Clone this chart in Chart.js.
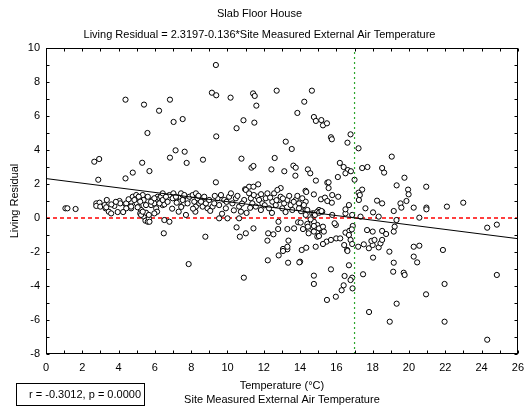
<!DOCTYPE html>
<html lang="en">
<head>
  <meta charset="UTF-8">
  <title>Slab Floor House</title>
  <script src="https://cdn.jsdelivr.net/npm/chart.js"></script>
  <style>
    body {
      margin: 0;
      background: #fff;
    }
  </style>
</head>
<body>
  <canvas id="residualChart" width="531" height="411"></canvas>

  <script>
    // Regression of living residual on site air temperature
    const intercept = 2.3197;
    const slope = -0.136;
    const statsText = 'r = -0.3012, p = 0.0000';
    const setPoint = 17; // vertical marker (°C)

    // [temperature, residual] pairs
    const upperPoints = [
      [2.66,3.31],[2.93,3.47],[2.88,2.25],[4.38,6.96],[4.38,2.33],[4.78,2.67],[5.30,3.25],[5.40,6.67],
      [5.59,5.00],[5.70,2.76],[6.23,6.31],[6.83,6.96],[6.83,3.55],[7.03,5.65],[7.14,3.98],[7.53,5.82],
      [7.64,3.90],[7.75,3.24],[9.36,9.00],[9.14,7.37],[9.38,7.22],[10.17,7.08],[11.41,7.33],[11.50,7.18],
      [11.59,6.61],[12.71,7.49],[14.65,7.49],[14.23,6.84],[13.85,6.18],[14.76,5.94],[14.87,5.71],[15.17,5.76],
      [15.26,5.45],[15.48,5.57],[10.88,5.75],[10.50,5.28],[11.48,5.61],[9.38,4.80],[13.21,4.49],[13.54,4.06],
      [8.65,3.43],[10.77,3.49],[12.60,3.53],[11.32,2.96],[11.43,3.06],[12.42,2.86],[13.13,2.75],[13.63,3.08],
      [13.76,2.96],[13.74,2.49],[14.43,2.86],[14.56,2.63],[14.87,2.20],[15.50,2.08],[9.36,2.10],[10.97,1.69],
      [11.19,1.84],[11.43,1.84],[11.69,1.98],[12.93,1.76],[15.70,4.75],[15.75,4.63],[16.78,4.92],[16.61,4.43],
      [17.22,4.10],[19.05,3.61],[16.19,3.24],[16.40,3.00],[16.63,2.82],[16.50,2.63],[16.80,2.75],[16.08,2.41],
      [17.00,2.25],[17.42,2.94],[17.71,3.00],[18.52,2.94],[18.63,2.67],[19.75,2.37],[19.32,1.92],[20.95,1.84],
      [15.57,2.10],[15.57,1.76],[17.42,1.67],[19.95,1.67],[14.30,1.60]
    ];

    const bandPoints = [
      [1.07,0.57],[1.18,0.57],[1.63,0.53],[2.77,0.86],[2.95,0.90],[2.77,0.71],[2.99,0.67],[3.35,1.06],
      [3.28,0.57],[3.46,0.37],[3.59,0.27],[3.23,0.76],[3.77,0.71],[3.95,0.35],[4.05,1.00],[4.09,0.86],
      [4.38,0.82],[4.69,0.96],[4.69,0.57],[4.78,1.25],[4.97,1.35],[4.93,1.10],[5.00,0.86],[5.11,0.67],
      [5.24,0.47],[5.19,0.27],[5.38,0.08],[5.48,-0.16],[5.61,-0.22],[5.67,-0.02],[5.51,0.31],[5.67,0.18],
      [5.33,1.35],[5.38,1.06],[5.51,0.76],[5.61,1.25],[5.79,0.76],[5.88,1.06],[5.97,0.86],[6.07,0.57],
      [6.12,0.37],[5.97,0.27],[6.15,1.25],[6.25,1.16],[6.34,0.96],[6.43,0.76],[6.52,0.80],[6.52,-0.12],
      [6.80,-0.22],[6.49,-0.90],[3.32,0.63],[4.42,0.86],[4.42,0.57],[4.69,0.67],[4.87,1.06],[5.05,0.63],
      [5.11,1.25],[5.19,0.96],[5.24,0.18],[5.33,0.37],[5.70,-0.22],[5.79,0.96],[5.97,1.16],[6.25,0.86],
      [6.34,1.25],[6.43,1.06],[6.80,1.35],[7.02,1.45],[7.16,1.16],[7.31,0.37],[7.35,0.96],[7.53,1.35],
      [7.62,0.86],[7.71,0.18],[7.80,1.06],[7.90,1.25],[8.08,1.35],[8.17,0.96],[8.26,0.67],[8.23,0.37],
      [8.45,0.86],[8.54,1.16],[8.63,0.67],[8.78,-1.10],[8.81,0.96],[8.90,0.57],[6.43,1.45],[6.61,1.25],
      [6.98,1.16],[7.16,1.25],[7.44,1.45],[7.62,1.35],[7.53,1.06],[7.80,0.86],[8.26,1.45],[8.35,1.16],
      [8.54,0.96],[8.72,1.25],[8.81,0.86],[8.99,1.06],[9.18,0.67],[9.27,0.86],[9.45,1.16],[9.54,0.76],
      [9.64,1.35],[9.82,1.06],[9.91,0.57],[10.09,1.25],[10.19,1.45],[10.27,0.86],[10.46,1.16],[10.64,0.67],
      [10.74,0.37],[10.92,1.06],[11.01,1.65],[11.19,1.45],[11.29,1.16],[11.37,0.86],[11.56,0.67],[11.65,1.25],
      [11.74,1.06],[11.84,0.47],[11.92,0.86],[12.11,1.16],[12.20,1.45],[12.29,0.57],[12.47,0.96],[12.57,1.45],
      [12.66,0.76],[12.75,1.65],[12.84,1.06],[12.93,1.25],[13.02,0.57],[13.12,0.86],[13.30,1.06],[13.48,0.76],
      [13.57,0.47],[13.76,1.06],[14.12,0.67],[14.31,0.96],[14.40,0.47],[14.67,0.27],[15.04,0.47],[15.22,0.37],
      [14.76,1.39],[15.15,1.10],[14.76,0.27],[14.95,0.37],[15.77,0.18],[16.50,0.27],[16.87,0.18],[17.33,0.08],
      [9.05,0.42],[9.30,1.30],[9.70,0.25],[9.95,0.95],[10.35,0.45],[10.55,1.30],[10.80,0.85],[11.05,0.30],
      [11.25,0.60],[11.45,1.35],[11.85,1.40],[12.05,0.75],[12.35,1.20],[12.45,0.30],[12.70,1.05],[13.05,1.15],
      [13.20,0.35],[13.40,1.30],[13.65,0.95],[13.85,1.30],[14.05,0.40],[8.40,1.30],[8.10,0.55],[7.45,0.65],
      [7.20,0.90],[6.95,0.55],[6.70,0.95],[4.55,1.10],[4.25,0.35],[3.85,0.95],[3.60,0.80],
      [14.34,1.53],[14.12,1.16],[13.94,0.86],[14.21,0.76],[13.94,0.57],[15.37,1.20],[15.77,1.35],[16.10,1.25],
      [15.75,0.90],[15.50,1.00],[16.69,0.76],[16.50,0.51],[17.22,1.49],[17.29,1.35],[17.24,1.06],[18.24,1.02],
      [18.52,0.86],[17.60,0.57],[18.02,0.33],[18.33,0.08],[19.16,0.41],[19.53,0.86],[19.58,0.61],[19.86,1.00],
      [19.98,1.39],[20.26,0.61],[20.96,0.61],[20.96,0.51],[22.09,0.67],[22.99,0.90],[20.57,0.02],[19.31,-0.12],
      [24.31,-0.57],[24.84,-0.39],[14.82,0.18],[14.31,0.18],[15.04,0.31],[15.18,0.41]
    ];

    const lowerPoints = [
      [9.54,-0.02],[10.00,-0.02],[10.64,-0.02],[10.50,-0.55],[11.01,-0.90],[10.68,-1.10],[11.43,-0.61],[12.24,-0.90],
      [12.53,-0.96],[12.20,-1.33],[12.79,-0.65],[13.30,-0.65],[13.67,-0.61],[13.89,-0.25],[14.40,-0.35],[14.49,-0.75],
      [14.95,-0.41],[15.22,-0.71],[14.86,-1.69],[13.30,-1.84],[13.06,-1.82],[12.81,-0.22],[13.36,-1.33],[13.30,-1.69],
      [14.76,-0.22],[14.86,-0.61],[14.95,-0.80],[15.13,-0.67],[14.95,-1.10],[15.46,-1.39],
      [14.03,-0.27],[14.16,-0.65],[14.43,-0.51],[14.58,-0.08],[14.76,-0.47],[14.76,-0.80],[15.04,-0.61],[15.26,-0.51],
      [15.04,-1.06],[15.31,-0.80],[14.47,-0.90],[15.26,-1.53],[15.70,-1.29],[15.99,-1.20],[16.21,-1.20],[15.97,-0.41],
      [15.90,-0.31],[16.50,-0.86],[16.72,-0.75],[16.90,-0.47],[16.85,-0.67],[16.69,-1.00],[16.43,-1.59],[16.59,-1.88],
      [16.78,-1.29],[16.87,-1.53],[17.20,-1.69],[17.51,-1.55],[17.69,-0.71],[18.00,-0.80],[17.79,-1.78],[18.00,-1.59],
      [18.02,-2.33],[17.93,-1.35],[18.10,-1.29],[18.33,-1.73],[18.43,-1.49],[18.52,-0.76],[18.74,-0.94],[18.52,-1.29],
      [19.21,-0.51],[19.16,-0.80],[18.92,-1.98],[19.16,-2.63],[19.13,-3.16],[19.71,-3.22],[19.76,-3.35],[20.26,-1.69],
      [20.57,-1.63],[20.26,-2.27],[20.45,-2.61],[21.87,-1.88],[14.09,-1.88],[14.34,-1.75],[14.00,-2.57],[15.70,-3.02],
      [16.69,-2.78],[16.45,-3.41],[16.87,-3.51],[14.76,-3.39],[17.47,-3.31],[24.84,-3.35],[7.86,-2.71],[10.90,-3.51],
      [12.22,-2.49],[12.82,-2.20],[13.06,-1.94],[13.34,-2.63],[13.96,-2.61],[14.76,-3.88],[15.48,-4.82],[15.97,-4.63],
      [16.29,-4.25],[16.40,-3.96],[16.78,-3.65],[16.89,-4.14],[16.61,-1.94],[17.80,-5.53],[18.94,-6.10],[19.32,-5.04],
      [20.94,-4.49],[21.96,-3.88],[21.96,-6.10],[24.31,-7.16]
    ];

    const xRange = [0, 26];
    const yRange = [-8, 10];
    const fontFamily = 'Arial, "Liberation Sans", sans-serif';

    const toXY = p => ({ x: p[0], y: p[1] });
    const allPoints = upperPoints.concat(bandPoints, lowerPoints).map(toXY);

    // frame plus inward tick marks on all four sides, every unit
    const frameTicks = {
      id: 'frameTicks',
      afterDatasetsDraw(chart) {
        const { ctx, chartArea: a, scales: { x, y } } = chart;
        const L = Math.round(a.left) + 0.5, R = Math.round(a.right) - 0.5;
        const T = Math.round(a.top) + 0.5, B = Math.round(a.bottom) - 0.5;
        ctx.save();
        ctx.strokeStyle = '#000';
        ctx.lineWidth = 1;
        ctx.beginPath();
        for (let t = xRange[0]; t <= xRange[1]; t++) {
          const px = Math.round(x.getPixelForValue(t)) + 0.5;
          ctx.moveTo(px, B); ctx.lineTo(px, B - 3);
          ctx.moveTo(px, T); ctx.lineTo(px, T + 3);
        }
        for (let v = yRange[0]; v <= yRange[1]; v++) {
          const py = Math.round(y.getPixelForValue(v)) + 0.5;
          ctx.moveTo(L, py); ctx.lineTo(L + 3, py);
          ctx.moveTo(R, py); ctx.lineTo(R - 3, py);
        }
        ctx.stroke();
        ctx.strokeRect(L, T, R - L, B - T);
        ctx.restore();
      },
      afterDraw(chart) {
        const ctx = chart.ctx;
        ctx.save();
        ctx.strokeStyle = '#000';
        ctx.lineWidth = 1;
        ctx.strokeRect(16.5, 383.5, 128, 22);
        ctx.fillStyle = '#000';
        ctx.font = '11px ' + fontFamily;
        ctx.textAlign = 'right';
        ctx.textBaseline = 'middle';
        ctx.fillText(statsText, 141, 395);
        ctx.restore();
      }
    };

    const ctx = document.getElementById('residualChart').getContext('2d');

    new Chart(ctx, {
      type: 'scatter',
      data: {
        datasets: [
          {
            label: 'Fit',
            data: [
              { x: xRange[0], y: intercept + slope * xRange[0] },
              { x: xRange[1], y: intercept + slope * xRange[1] }
            ],
            showLine: true,
            borderColor: '#000',
            borderWidth: 1,
            pointRadius: 0,
            order: 0
          },
          {
            label: 'Marker',
            data: [{ x: setPoint, y: yRange[0] }, { x: setPoint, y: yRange[1] }],
            showLine: true,
            borderColor: '#2ca82c',
            borderWidth: 1.2,
            borderDash: [2, 3],
            pointRadius: 0,
            order: 0.5
          },
          {
            label: 'Living Residual',
            data: allPoints,
            pointRadius: 2.6,
            borderWidth: 1,
            borderColor: '#000',
            backgroundColor: '#fff',
            order: 1
          },
          {
            label: 'Zero',
            data: [{ x: xRange[0], y: 0 }, { x: xRange[1], y: 0 }],
            showLine: true,
            borderColor: '#ff0000',
            borderWidth: 1.5,
            borderDash: [4, 3],
            pointRadius: 0,
            order: 2
          }
        ]
      },
      options: {
        responsive: false,
        animation: false,
        devicePixelRatio: 1,
        layout: { padding: { left: 0, right: 12, top: 0, bottom: 0 } },
        plugins: {
          legend: { display: false },
          tooltip: { enabled: false },
          title: {
            display: true,
            text: 'Slab Floor House',
            color: '#000',
            font: { family: fontFamily, size: 11, weight: 'normal' },
            padding: { top: 7, bottom: 4 }
          },
          subtitle: {
            display: true,
            text: 'Living Residual = 2.3197-0.136*Site Measured External Air Temperature',
            color: '#000',
            font: { family: fontFamily, size: 11 },
            padding: { top: 4, bottom: 6.6 }
          }
        },
        scales: {
          x: {
            type: 'linear',
            min: xRange[0],
            max: xRange[1],
            grid: { display: false, drawTicks: false },
            border: { display: false },
            ticks: { stepSize: 2, color: '#000', padding: 7, font: { family: fontFamily, size: 11 } },
            title: {
              display: true,
              text: ['Temperature (°C)', 'Site Measured External Air Temperature'],
              color: '#000',
              font: { family: fontFamily, size: 11, lineHeight: 1.27 },
              padding: { top: 0, bottom: 4 }
            },
            afterFit(scale) { scale.height = 57; }
          },
          y: {
            min: yRange[0],
            max: yRange[1],
            grid: { display: false, drawTicks: false },
            border: { display: false },
            ticks: { stepSize: 2, color: '#000', padding: 6, font: { family: fontFamily, size: 11 } },
            title: {
              display: true,
              text: 'Living Residual',
              color: '#000',
              font: { family: fontFamily, size: 11 },
              padding: { top: 8, bottom: 0 }
            },
            afterFit(scale) { scale.width = 46; }
          }
        }
      },
      plugins: [frameTicks]
    });
  </script>
</body>
</html>
